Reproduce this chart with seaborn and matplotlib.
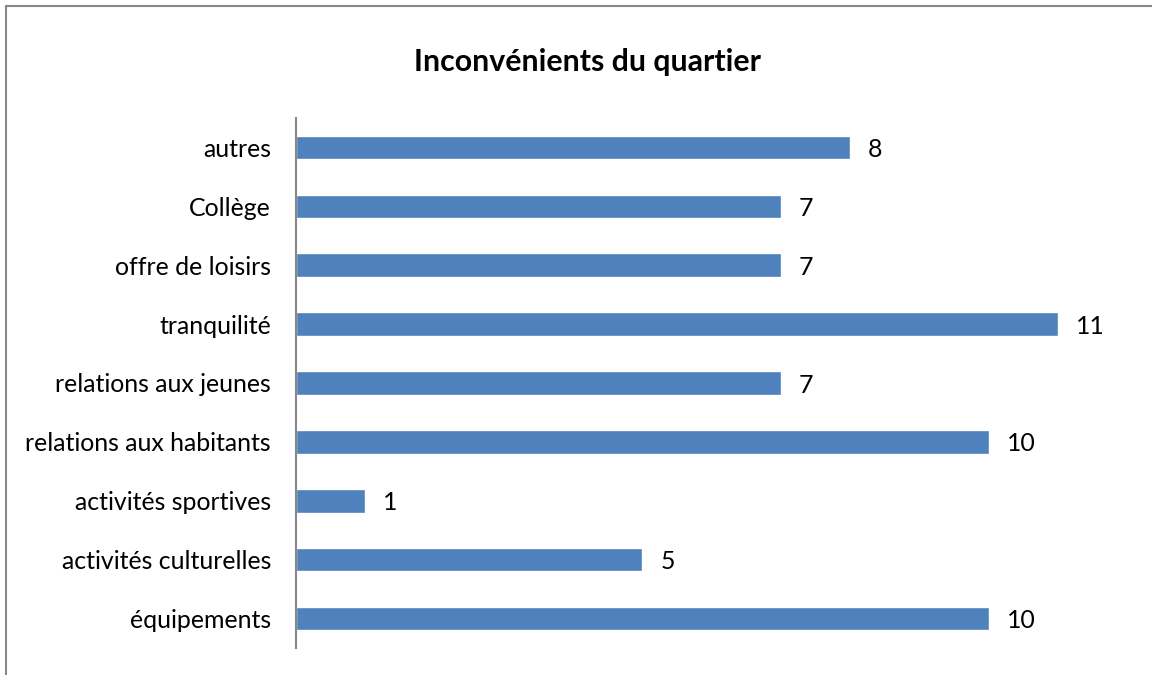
import matplotlib
matplotlib.use("Agg")
import matplotlib.pyplot as plt
import seaborn as sns
import pandas as pd
from matplotlib.lines import Line2D

categories = ["autres", "Collège", "offre de loisirs", "tranquilité", "relations aux jeunes",
              "relations aux habitants", "activités sportives", "activités culturelles", "équipements"]
values = [8, 7, 7, 11, 7, 10, 1, 5, 10]
title = "Inconvénients du quartier"

sns.set_theme(style="white")
plt.rcParams['font.family'] = ['Lato', 'DejaVu Sans']

df = pd.DataFrame({"cat": categories, "val": values})

fig = plt.figure(figsize=(11.52, 6.75), dpi=100)
ax = fig.add_axes([296/1152, 1-648/675, (1127-296)/1152, (648-118)/675])
sns.barplot(data=df, y="cat", x="val", orient="h", color="#4F81BD", saturation=1,
            width=0.4, ax=ax, order=categories)
ax.set_xlim(0, 12)
ax.set_ylim(len(categories)-0.5, -0.5)
ax.set_xlabel("")
ax.set_ylabel("")
ax.set_xticks([])
ax.tick_params(axis="y", length=0, pad=18, labelsize=17.9, labelcolor="#000000")
for lbl in ax.get_yticklabels():
    lbl.set_va("center_baseline")
for s in ["top", "right", "bottom"]:
    ax.spines[s].set_visible(False)
ax.spines["left"].set_color("#888888")
ax.spines["left"].set_linewidth(1.5)
for i, v in enumerate(values):
    ax.annotate(str(v), (v, i), xytext=(13, -1.5), textcoords="offset points",
                va="center", ha="left", fontsize=17.9, color="#000000")
fig.text(588/1152, 1-62/675, title, ha="center", va="center", fontsize=21.8, fontweight="bold",
         color="#000000")
# chart-area border (only top and left visible in the reference crop)
fig.add_artist(Line2D([5.5/1152, 5.5/1152], [0, 1-5.5/675], transform=fig.transFigure,
                      color="#888888", linewidth=1.5))
fig.add_artist(Line2D([5.5/1152, 1], [1-5.5/675, 1-5.5/675], transform=fig.transFigure,
                      color="#888888", linewidth=1.5))
fig.savefig("out.png", dpi=100)
